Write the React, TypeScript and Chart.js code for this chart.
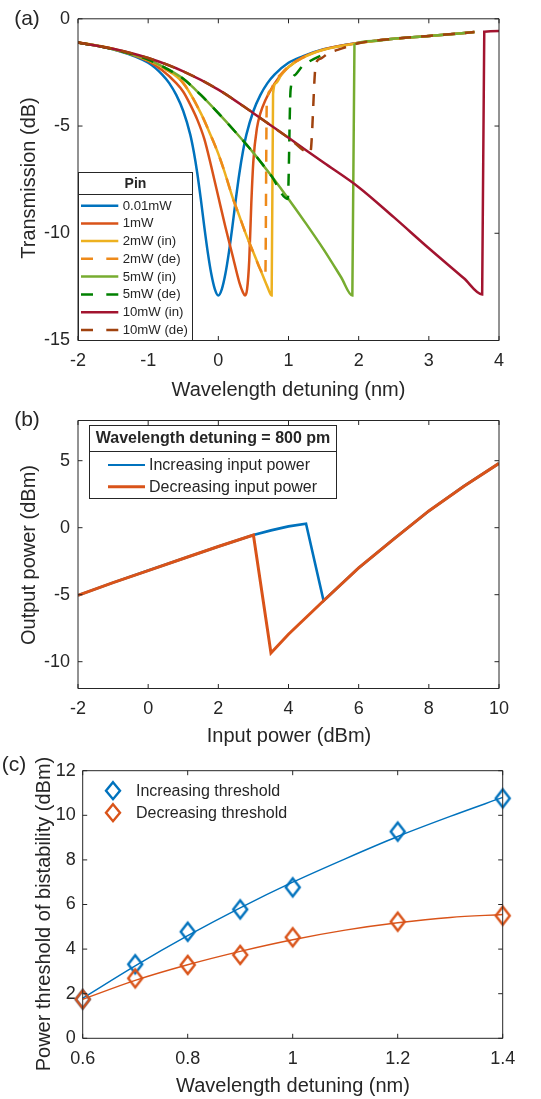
import React, { useEffect, useRef } from "react";
import { Chart, registerables } from "chart.js";

Chart.register(...registerables);

const FONT = '"Liberation Sans", Arial, Helvetica, sans-serif';
const INK = "#262626";

// ---------------- Panel (a): transmission spectra ----------------
const aXTicks = [-2, -1, 0, 1, 2, 3, 4];
const aYTicks = [-15, -10, -5, 0];
const aLabels = ["0.01mW", "1mW", "2mW (in)", "2mW (de)", "5mW (in)", "5mW (de)", "10mW (in)", "10mW (de)"];

const aP001: [number, number][] = [
  [-2, -1.1], [-1.5, -1.42], [-1, -2.05], [-0.8, -2.6], [-0.7, -3.0], [-0.6, -3.55], [-0.5, -4.3], [-0.4, -5.4],
  [-0.35, -6.2], [-0.3, -7.2], [-0.25, -8.4], [-0.2, -9.7], [-0.15, -10.9], [-0.1, -11.9], [-0.05, -12.6], [0, -12.9],
  [0.05, -12.6], [0.1, -11.9], [0.15, -10.9], [0.2, -9.7], [0.25, -8.4], [0.3, -7.2], [0.35, -6.2], [0.4, -5.4],
  [0.5, -4.3], [0.6, -3.55], [0.7, -3.0], [0.8, -2.6], [1, -2.05], [1.2, -1.75], [1.5, -1.42], [2, -1.12],
  [2.5, -0.93], [3, -0.8], [3.65, -0.62],
];
const aP1: [number, number][] = [
  [-2, -1.1], [-1.5, -1.41], [-1, -1.97], [-0.8, -2.4], [-0.6, -3.0], [-0.5, -3.4], [-0.4, -4.0], [-0.3, -4.7],
  [-0.2, -5.6], [-0.1, -6.9], [0, -8.3], [0.1, -9.7], [0.2, -11.0], [0.3, -12.3], [0.35, -12.75], [0.38, -12.9],
  [0.41, -12.6], [0.44, -11.3], [0.47, -8.6], [0.5, -6.6], [0.55, -5.1], [0.6, -4.4], [0.67, -3.8], [0.75, -3.3],
  [0.85, -2.8], [1, -2.25], [1.2, -1.8], [1.5, -1.43], [2, -1.12], [2.5, -0.93], [3, -0.8], [3.65, -0.62],
];
const aP2in: [number, number][] = [
  [-2, -1.1], [-1.5, -1.4], [-1, -1.93], [-0.75, -2.35], [-0.5, -3.0], [-0.25, -4.4], [-0.1, -5.5], [0, -6.3],
  [0.1, -7.25], [0.2, -8.3], [0.3, -9.2], [0.4, -10.1], [0.5, -10.9], [0.6, -11.7], [0.7, -12.5], [0.76, -12.9],
  [0.78, -3.5], [0.82, -3.0], [0.9, -2.6], [1, -2.25], [1.2, -1.82], [1.5, -1.44], [2, -1.13], [2.5, -0.93],
  [3, -0.8], [3.65, -0.62],
];
const aP2de: [number, number][] = [
  [-2, -1.1], [-1.5, -1.4], [-1, -1.93], [-0.75, -2.35], [-0.5, -3.0], [-0.25, -4.4], [-0.1, -5.5], [0, -6.3],
  [0.1, -7.25], [0.2, -8.3], [0.3, -9.2], [0.4, -10.1], [0.5, -10.9], [0.6, -11.7], [0.67, -12.0], [0.69, -4.0],
  [0.74, -3.35], [0.8, -2.95], [0.9, -2.55], [1, -2.22], [1.15, -1.9], [1.3, -1.66],
];
const aP5in: [number, number][] = [
  [-2, -1.1], [-1.5, -1.42], [-1, -1.9], [-0.75, -2.3], [-0.5, -2.8], [-0.25, -3.55], [0, -4.4], [0.25, -5.3],
  [0.5, -6.25], [0.75, -7.3], [1, -8.4], [1.25, -9.55], [1.5, -10.75], [1.75, -12.05], [1.91, -12.9], [1.94, -1.2],
  [2.2, -1.03], [2.5, -0.93], [3, -0.8], [3.65, -0.62],
];
const aP5de: [number, number][] = [
  [-2, -1.1], [-1.5, -1.42], [-1, -1.9], [-0.75, -2.3], [-0.5, -2.8], [-0.25, -3.55], [0, -4.4], [0.25, -5.3],
  [0.5, -6.25], [0.75, -7.3], [0.99, -8.4], [1.03, -3.3], [1.1, -2.6], [1.2, -2.2], [1.3, -1.98], [1.43, -1.76],
  [1.55, -1.6],
];
const aP10in: [number, number][] = [
  [-2, -1.1], [-1.5, -1.4], [-1, -1.83], [-0.5, -2.45], [0, -3.3], [0.5, -4.4], [1, -5.55], [1.5, -6.7],
  [2, -7.85], [2.5, -9.25], [3, -10.7], [3.5, -12.1], [3.76, -12.85], [3.79, -0.6], [4, -0.57],
];
const aP10de: [number, number][] = [
  [-2, -1.1], [-1.5, -1.4], [-1, -1.83], [-0.5, -2.45], [0, -3.3], [0.5, -4.4], [1, -5.55], [1.31, -6.25],
  [1.39, -2.1], [1.46, -1.85], [1.57, -1.6], [1.7, -1.45], [2, -1.14], [2.5, -0.93], [3, -0.8], [3.65, -0.62],
];
const aSeries = [aP001, aP1, aP2in, aP2de, aP5in, aP5de, aP10in, aP10de];
const aColors = ["#0072BD", "#D95319", "#EDB120", "#EE8A1A", "#77AC30", "#008000", "#A2142F", "#A0420E"];
const aDashed = [false, false, false, true, false, true, false, true];

// ---------------- Panel (b): output vs input power ----------------
const bXTicks = [-2, 0, 2, 4, 6, 8, 10];
const bYTicks = [-10, -5, 0, 5];
const bLabels = ["Increasing input power", "Decreasing input power"];
const bIncX = [-2, -1, 0, 1, 2, 3, 3.5, 4, 4.5, 5, 6, 7, 8, 9, 10];
const bIncY = [-5.05, -4.1, -3.2, -2.3, -1.4, -0.55, -0.2, 0.1, 0.3, -5.45, -3.0, -0.85, 1.25, 3.1, 4.8];
const bDecX = [-2, -1, 0, 1, 2, 3, 3.5, 4, 5, 6, 7, 8, 9, 10];
const bDecY = [-5.05, -4.1, -3.2, -2.3, -1.4, -0.55, -9.35, -7.95, -5.45, -3.0, -0.85, 1.25, 3.1, 4.8];

// ---------------- Panel (c): bistability thresholds ----------------
const cXTicks = [0.6, 0.8, 1, 1.2, 1.4];
const cYTicks = [0, 2, 4, 6, 8, 10, 12];
const cLabels = ["Increasing threshold", "Decreasing threshold"];
const cX = [0.6, 0.7, 0.8, 0.9, 1.0, 1.2, 1.4];
const cInc = [1.75, 3.32, 4.78, 5.78, 6.77, 9.27, 10.76];
const cDec = [1.75, 2.69, 3.29, 3.74, 4.53, 5.23, 5.5];
const cFitX = [0.6, 0.7, 0.8, 0.9, 1.0, 1.1, 1.2, 1.3, 1.4];
const cFitInc = [1.8, 3.25, 4.6, 5.85, 7.0, 8.05, 9.05, 9.95, 10.8];
const cFitDec = [1.75, 2.6, 3.3, 3.9, 4.42, 4.85, 5.18, 5.42, 5.55];

const W = 541;

const framePlugin = {
  id: "matlabFrame",
  afterDraw(chart: any) {
    const { ctx, chartArea: a, scales } = chart;
    const xs = scales.x;
    const ys = scales.y;
    const tl = 4.5;
    ctx.save();
    ctx.strokeStyle = INK;
    ctx.lineWidth = 1;
    ctx.beginPath();
    ctx.rect(a.left, a.top, a.right - a.left, a.bottom - a.top);
    for (const t of xs.ticks) {
      const p = xs.getPixelForValue(t.value);
      ctx.moveTo(p, a.bottom);
      ctx.lineTo(p, a.bottom - tl);
      ctx.moveTo(p, a.top);
      ctx.lineTo(p, a.top + tl);
    }
    for (const t of ys.ticks) {
      const p = ys.getPixelForValue(t.value);
      ctx.moveTo(a.left, p);
      ctx.lineTo(a.left + tl, p);
      ctx.moveTo(a.right, p);
      ctx.lineTo(a.right - tl, p);
    }
    ctx.stroke();
    ctx.restore();
  },
};

function axis(min: number, max: number, ticks: number[], pad: number, key: "width" | "height", size: number) {
  return {
    type: "linear",
    min,
    max,
    grid: { display: false, drawTicks: false, tickLength: 0 },
    border: { display: false },
    afterBuildTicks: (s: any) => {
      s.ticks = ticks.map((v) => ({ value: v }));
    },
    afterFit: (s: any) => {
      s[key] = size;
    },
    ticks: {
      color: INK,
      font: { family: FONT, size: 18 },
      padding: pad,
      autoSkip: false,
      maxRotation: 0,
      minRotation: 0,
      callback: (v: any) => String(v),
    },
  };
}

function baseOptions(L: number, R: number, T: number, B: number, H: number, xr: [number, number], xt: number[], yr: [number, number], yt: number[], ypad: number) {
  return {
    animation: false,
    responsive: false,
    devicePixelRatio: 1,
    events: [],
    layout: { padding: { left: 0, right: W - R, top: T, bottom: 0 } },
    plugins: { legend: { display: false }, tooltip: { enabled: false }, title: { display: false } },
    scales: {
      x: axis(xr[0], xr[1], xt, 10, "height", H - B),
      y: axis(yr[0], yr[1], yt, ypad, "width", L),
    },
  };
}

function makeDiamond(color: string) {
  const c = document.createElement("canvas");
  c.width = 20;
  c.height = 24;
  const g = c.getContext("2d")!;
  g.strokeStyle = color;
  g.lineWidth = 2.4;
  g.lineJoin = "miter";
  g.beginPath();
  g.moveTo(10, 3);
  g.lineTo(17, 12);
  g.lineTo(10, 21);
  g.lineTo(3, 12);
  g.closePath();
  g.stroke();
  return c;
}

const HA = 372, HB = 348, HC = 352;
const TOPB = 372, TOPC = 720;

function Txt(props: { x: number; y: number; size: number; bold?: boolean; rot?: boolean; left?: boolean; children: React.ReactNode }) {
  const { x, y, size, bold, rot, left, children } = props;
  const style: React.CSSProperties = {
    position: "absolute",
    left: x,
    top: y,
    fontFamily: FONT,
    fontSize: size,
    fontWeight: bold ? 700 : 400,
    color: INK,
    lineHeight: 1,
    whiteSpace: "nowrap",
    transform: (left ? "translate(0,-50%)" : "translate(-50%,-50%)") + (rot ? " rotate(-90deg)" : ""),
  };
  return <div style={style}>{children}</div>;
}

export default function App() {
  const refA = useRef<HTMLCanvasElement>(null);
  const refB = useRef<HTMLCanvasElement>(null);
  const refC = useRef<HTMLCanvasElement>(null);

  useEffect(() => {
    const charts: Chart[] = [];
    // Panel (a)
    const dsA = aSeries.map((s, i) => ({
      data: s.map(([x, y]) => ({ x, y })),
      borderColor: aColors[i],
      borderWidth: 2.5,
      borderDash: aDashed[i] ? [12, 10] : [],
      pointRadius: 0,
      fill: false,
      cubicInterpolationMode: "monotone",
      order: aSeries.length - i,
    }));
    charts.push(
      new Chart(refA.current!, {
        type: "line",
        data: { datasets: dsA as any },
        options: baseOptions(78, 499, 14, 340.5, HA, [-2, 4], aXTicks, [-15, 0], aYTicks, 8) as any,
        plugins: [framePlugin],
      })
    );
    // Panel (b)
    const dsB = [
      {
        data: bIncX.map((x, i) => ({ x, y: bIncY[i] })),
        borderColor: "#0072BD",
        borderWidth: 2.6,
        pointRadius: 0,
        tension: 0,
        fill: false,
        order: 2,
      },
      {
        data: bDecX.map((x, i) => ({ x, y: bDecY[i] })),
        borderColor: "#D95319",
        borderWidth: 3,
        pointRadius: 0,
        tension: 0,
        fill: false,
        order: 1,
      },
    ];
    charts.push(
      new Chart(refB.current!, {
        type: "line",
        data: { datasets: dsB as any },
        options: baseOptions(78, 499, 420.5 - TOPB, 688.5 - TOPB, HB, [-2, 10], bXTicks, [-12, 8], bYTicks, 8) as any,
        plugins: [framePlugin],
      })
    );
    // Panel (c)
    const dBlue = makeDiamond("#0072BD");
    const dOrange = makeDiamond("#D95319");
    const dsC = [
      {
        data: cX.map((x, i) => ({ x, y: cInc[i] })),
        showLine: false,
        pointStyle: dBlue,
        pointRadius: 8,
        order: 2,
      },
      {
        data: cX.map((x, i) => ({ x, y: cDec[i] })),
        showLine: false,
        pointStyle: dOrange,
        pointRadius: 8,
        order: 1,
      },
      {
        data: cFitX.map((x, i) => ({ x, y: cFitInc[i] })),
        borderColor: "#0072BD",
        borderWidth: 1.4,
        pointRadius: 0,
        cubicInterpolationMode: "monotone",
        fill: false,
        order: 4,
      },
      {
        data: cFitX.map((x, i) => ({ x, y: cFitDec[i] })),
        borderColor: "#D95319",
        borderWidth: 1.4,
        pointRadius: 0,
        cubicInterpolationMode: "monotone",
        fill: false,
        order: 3,
      },
    ];
    const optC: any = baseOptions(82.7, 502.7, 770.7 - TOPC, 1038.3 - TOPC, HC, [0.6, 1.4], cXTicks, [0, 12], cYTicks, 7);
    optC.datasets = { line: { clip: false } };
    charts.push(
      new Chart(refC.current!, {
        type: "line",
        data: { datasets: dsC as any },
        options: optC,
        plugins: [framePlugin],
      })
    );
    return () => charts.forEach((c) => c.destroy());
  }, []);

  const aRows = [205.7, 223.4, 241.1, 258.8, 276.6, 294.4, 312.2, 330];

  return (
    <div style={{ position: "absolute", left: 0, top: 0, width: W, height: 1099, background: "#fff", overflow: "hidden" }}>
      <canvas ref={refA} width={W} height={HA} style={{ position: "absolute", left: 0, top: 0, width: W, height: HA }} />
      <canvas ref={refB} width={W} height={HB} style={{ position: "absolute", left: 0, top: TOPB, width: W, height: HB }} />
      <canvas ref={refC} width={W} height={HC} style={{ position: "absolute", left: 0, top: TOPC, width: W, height: HC }} />

      {/* legend boxes */}
      <div style={{ position: "absolute", left: 78, top: 171.7, width: 115, height: 169, border: `1px solid ${INK}`, boxSizing: "border-box", background: "#fff" }} />
      <div style={{ position: "absolute", left: 78, top: 194, width: 115, height: 1, background: INK }} />
      <div style={{ position: "absolute", left: 89.3, top: 425, width: 247.5, height: 74, border: `1px solid ${INK}`, boxSizing: "border-box", background: "#fff" }} />
      <div style={{ position: "absolute", left: 89.3, top: 451, width: 247.5, height: 1, background: INK }} />

      <svg width={W} height={1099} style={{ position: "absolute", left: 0, top: 0, pointerEvents: "none" }}>
        {aRows.map((y, i) => (
          <line key={i} x1={81} x2={118.3} y1={y} y2={y} stroke={aColors[i]} strokeWidth={2.5} strokeDasharray={aDashed[i] ? "12 13.3" : undefined} />
        ))}
        <line x1={108} x2={145} y1={465} y2={465} stroke="#0072BD" strokeWidth={2} />
        <line x1={108} x2={145} y1={486.7} y2={486.7} stroke="#D95319" strokeWidth={3} />
        <polygon points="113,782.2 120,790.7 113,799.2 106,790.7" fill="none" stroke="#0072BD" strokeWidth={2.4} />
        <polygon points="113,804.2 120,812.7 113,821.2 106,812.7" fill="none" stroke="#D95319" strokeWidth={2.4} />
      </svg>

      <Txt x={135.5} y={183} size={14} bold>Pin</Txt>
      {aLabels.map((t, i) => (
        <Txt key={t} x={122.7} y={aRows[i]} size={13.2} left>{t}</Txt>
      ))}
      <Txt x={213} y={438} size={16} bold>Wavelength detuning = 800 pm</Txt>
      <Txt x={149} y={465} size={16} left>{bLabels[0]}</Txt>
      <Txt x={149} y={486.7} size={16} left>{bLabels[1]}</Txt>
      <Txt x={136} y={790.7} size={16} left>{cLabels[0]}</Txt>
      <Txt x={136} y={812.7} size={16} left>{cLabels[1]}</Txt>

      <Txt x={27} y={17} size={21}>(a)</Txt>
      <Txt x={28} y={177.5} size={20} rot>Transmission (dB)</Txt>
      <Txt x={288.5} y={389} size={20}>Wavelength detuning (nm)</Txt>
      <Txt x={27} y={418} size={21}>(b)</Txt>
      <Txt x={28.3} y={554.5} size={20} rot>Output power (dBm)</Txt>
      <Txt x={289} y={735} size={20}>Input power (dBm)</Txt>
      <Txt x={14} y={763} size={21}>(c)</Txt>
      <Txt x={42.7} y={914} size={20} rot>Power threshold of bistability (dBm)</Txt>
      <Txt x={293} y={1085} size={20}>Wavelength detuning (nm)</Txt>
    </div>
  );
}
